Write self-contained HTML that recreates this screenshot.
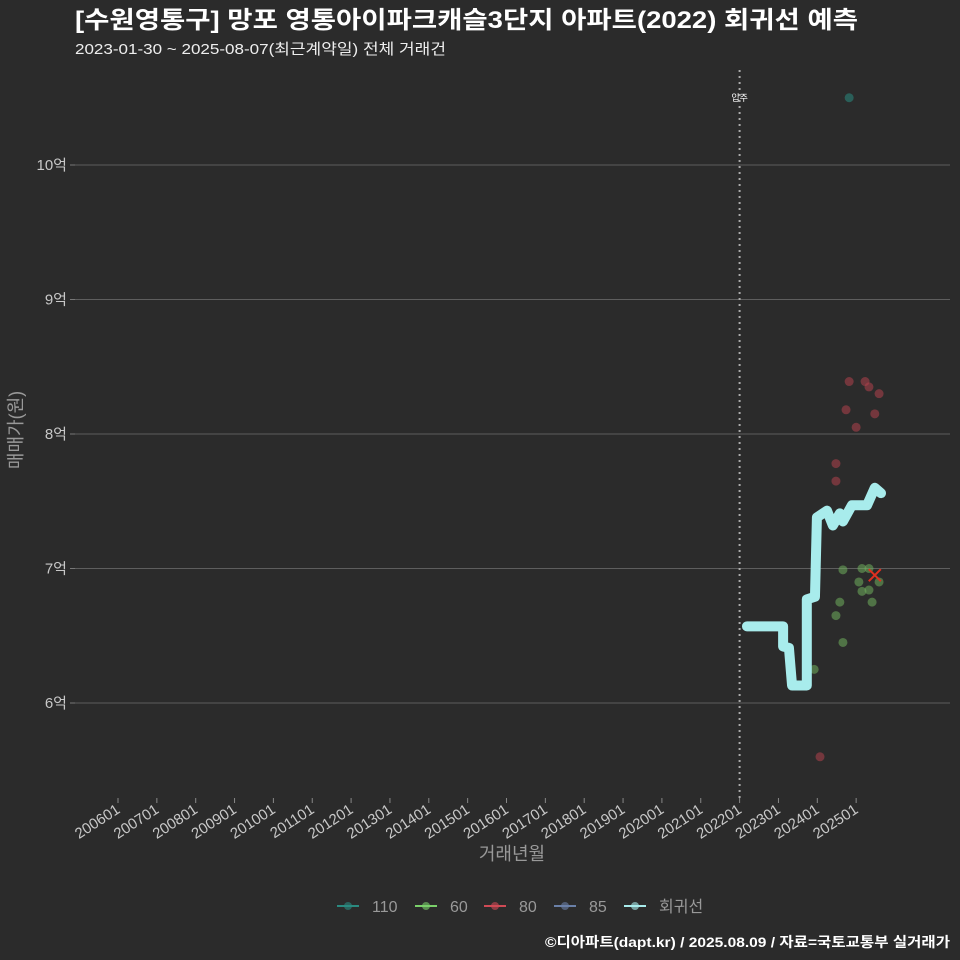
<!DOCTYPE html>
<html><head><meta charset="utf-8"><style>
html,body{margin:0;background:#2b2b2b;overflow:hidden;width:960px;height:960px;}
svg{display:block;}
svg text{font-family:"Liberation Sans","Noto Sans CJK KR",sans-serif;}
</style></head><body>
<svg id="chart" width="960" height="960" xmlns="http://www.w3.org/2000/svg">
<rect width="960" height="960" fill="#2b2b2b"/>
<text x="75" y="28" fill="#fff" font-size="24" font-weight="bold" textLength="783" lengthAdjust="spacingAndGlyphs">[수원영통구] 망포 영통아이파크캐슬3단지 아파트(2022) 회귀선 예측</text>
<text x="75" y="54" fill="#eee" font-size="15" textLength="371" lengthAdjust="spacingAndGlyphs">2023-01-30 ~ 2025-08-07(최근계약일) 전체 거래건</text>
<g id="grid"></g><g id="xaxis"></g><g id="marks"></g>
<text x="22" y="430" fill="#999" font-size="18" transform="rotate(-90 22 430)" text-anchor="middle">매매가(원)</text>
<text x="512" y="860" fill="#999" font-size="18" text-anchor="middle">거래년월</text>
<g id="legend"></g>
<text x="545" y="947" fill="#fff" font-size="14" font-weight="bold" textLength="405" lengthAdjust="spacingAndGlyphs">©디아파트(dapt.kr) / 2025.08.09 / 자료=국토교통부 실거래가</text>
</svg>
<script>
const yTicks=[6,7,8,9,10];
const yTickLabels=["6억","7억","8억","9억","10억"];
const xTickYears=[2006,2007,2008,2009,2010,2011,2012,2013,2014,2015,2016,2017,2018,2019,2020,2021,2022,2023,2024,2025];
const xTickLabels=["200601","200701","200801","200901","201001","201101","201201","201301","201401","201501","201601","201701","201801","201901","202001","202101","202201","202301","202401","202501"];
const t110=[2024.82]; const v110=[10.5];
const t60=[2024.66,2025.15,2025.33,2025.07,2025.15,2025.33,2025.59,2025.41,2024.58,2024.48,2024.66,2023.92];
const v60=[6.99,7.0,7.0,6.90,6.83,6.84,6.90,6.75,6.75,6.65,6.45,6.25];
const t80=[2024.82,2025.23,2025.33,2025.59,2024.74,2025.48,2025.0,2024.48,2024.48,2024.07];
const v80=[8.39,8.39,8.35,8.30,8.18,8.15,8.05,7.78,7.65,5.60];
const regT=[2022.19,2023.12,2023.12,2023.27,2023.35,2023.73,2023.73,2023.94,2023.99,2024.25,2024.40,2024.58,2024.66,2024.89,2025.28,2025.48,2025.64];
const regV=[6.57,6.57,6.42,6.41,6.13,6.13,6.77,6.79,7.38,7.43,7.32,7.41,7.35,7.47,7.47,7.60,7.56];
const latestT=2025.48, latestV=6.95, moveInT=2022.0;
const NS="http://www.w3.org/2000/svg";
const X=t=>118+(t-2006)*38.85, Y=v=>703-(v-6)*134.5;
function mk(tag,attrs,parent){const e=document.createElementNS(NS,tag);for(const k in attrs)e.setAttribute(k,attrs[k]);(typeof parent==='string'?document.getElementById(parent):parent).appendChild(e);return e;}
yTicks.forEach((v,i)=>{
 const l=mk('line',{x1:75,x2:950,y1:Y(v),y2:Y(v),stroke:'#5e5e5e','stroke-width':1},'grid');
 
 
 const tk=mk('line',{x1:70,x2:75,y1:Y(v),y2:Y(v),stroke:'#777'},'grid');
 
 
 const t=mk('text',{x:67,y:Y(v)+5,fill:'#c8c8c8','font-size':15,'text-anchor':'end'},'grid');
 t.textContent=yTickLabels[i];
 
 
});
xTickYears.forEach((yr,i)=>{
 const x=X(yr);
 const tk=mk('line',{x1:x,x2:x,y1:798,y2:803,stroke:'#888'},'xaxis');
 
 
 const t=mk('text',{x:x+3,y:812,fill:'#c8c8c8','font-size':15,'text-anchor':'end',transform:`rotate(-33 ${x+3} 812)`},'xaxis');
 t.textContent=xTickLabels[i];
 
 
});
const vl=mk('line',{x1:X(moveInT),x2:X(moveInT),y1:70,y2:800,stroke:'#aaa','stroke-width':2,'stroke-dasharray':'2,4'},'marks');


const ml=mk('text',{x:X(moveInT),y:101,fill:'#fff','font-size':9,'text-anchor':'middle'},'marks');
ml.textContent='입주';


function pts(ts,vs,col,name){ts.forEach((t,i)=>{const c=mk('circle',{cx:X(t),cy:Y(vs[i]),r:4.5,fill:col,opacity:0.55},'marks');
 
 });}
pts(t80,v80,'#b0414d','point-80');
pts(t60,v60,'#6fae5c','point-60');
pts(t110,v110,'#2a8a80','point-110');
const reg=mk('polyline',{points:regT.map((t,i)=>X(t)+','+Y(regV[i])).join(' '),fill:'none',stroke:'#a8ecec','stroke-width':10,'stroke-linejoin':'round','stroke-linecap':'round'},'marks');


const lx=X(latestT),ly=Y(latestV);
const xm=mk('path',{d:`M${lx-6},${ly-6}L${lx+6},${ly+6}M${lx-6},${ly+6}L${lx+6},${ly-6}`,stroke:'#e03020','stroke-width':2},'marks');


const leg=[['110','#2a8a80',337],['60','#7ad06a',415],['80','#d04a55',484],['85','#6a80a8',554],['회귀선','#a8ecec',624]];
leg.forEach(([n,c,lxp])=>{
 const g=mk('g',{},'legend');
 
 
 mk('line',{x1:lxp,x2:lxp+22,y1:906,y2:906,stroke:c,'stroke-width':2},g);
 mk('circle',{cx:lxp+11,cy:906,r:4,fill:c,opacity:0.6},g);
 const t=mk('text',{x:lxp+35,y:912,fill:'#999','font-size':16},g);t.textContent=n;
});
</script>
</body></html>
